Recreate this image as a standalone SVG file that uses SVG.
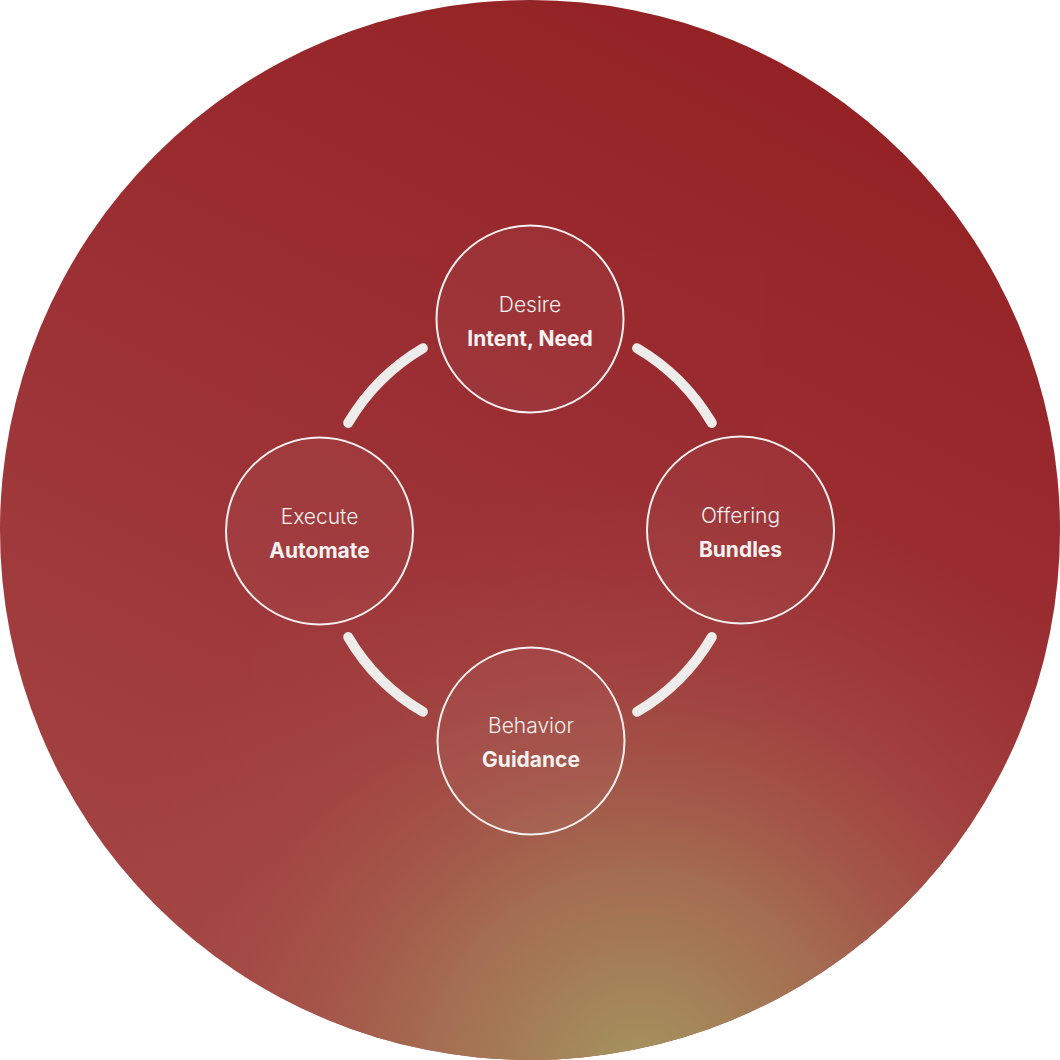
<svg xmlns="http://www.w3.org/2000/svg" width="1060" height="1060" viewBox="0 0 1060 1060">
  <defs>
    <linearGradient id="base" x1="0.75" y1="0" x2="0.25" y2="1">
      <stop offset="0" stop-color="#961619"/>
      <stop offset="0.5" stop-color="#a0282d"/>
      <stop offset="1" stop-color="#a8403e"/>
    </linearGradient>
    <radialGradient id="tan" cx="640" cy="1080" r="600" gradientUnits="userSpaceOnUse">
      <stop offset="0" stop-color="#a99a5c" stop-opacity="1"/>
      <stop offset="0.35" stop-color="#aa7450" stop-opacity="0.85"/>
      <stop offset="0.7" stop-color="#ab4e44" stop-opacity="0.4"/>
      <stop offset="1" stop-color="#a8403e" stop-opacity="0"/>
    </radialGradient>
    <filter id="noise" x="0" y="0" width="100%" height="100%">
      <feTurbulence type="fractalNoise" baseFrequency="0.9" numOctaves="2" seed="3" result="n"/>
      <feColorMatrix in="n" type="matrix" values="0 0 0 0 0.5  0 0 0 0 0.5  0 0 0 0 0.5  0 0 0 0.9 -0.3" result="g"/>
      <feComposite in="g" in2="SourceGraphic" operator="in" result="gm"/>
      <feBlend in="SourceGraphic" in2="gm" mode="normal"/>
    </filter>
    <clipPath id="disc"><circle cx="530" cy="530" r="530"/></clipPath>
  </defs>
  <style>
    .node { fill: #ffffff; fill-opacity: 0.04; stroke: #f4f0f0; stroke-width: 2; }
    .arc { fill: none; stroke: #eeeceb; stroke-width: 10; stroke-linecap: round; }
    .t1 { font-family: Inter, "Noto Sans", "Liberation Sans", sans-serif; font-size: 21px; font-weight: 300; fill: #f4f0f0; text-anchor: middle; }
    .t2 { font-family: Inter, "Noto Sans", "Liberation Sans", sans-serif; font-size: 21px; font-weight: 700; fill: #f6f2f2; text-anchor: middle; }
  </style>

  <g id="background">
    <circle cx="530" cy="530" r="530" fill="url(#base)"/>
    <circle cx="530" cy="530" r="530" fill="url(#tan)"/>
    <rect x="0" y="0" width="1060" height="1060" fill="#808080" opacity="0.1" filter="url(#noise)" clip-path="url(#disc)"/>
  </g>

  <g id="connectors">
    <path class="arc" d="M637.1,348.2 A211,211 0 0,1 711.8,422.9"/>
    <path class="arc" d="M711.8,637.1 A211,211 0 0,1 637.1,711.8"/>
    <path class="arc" d="M422.9,711.8 A211,211 0 0,1 348.2,637.1"/>
    <path class="arc" d="M348.2,422.9 A211,211 0 0,1 422.9,348.2"/>
  </g>

  <g id="node-desire">
    <circle class="node" cx="530" cy="319" r="93.5"/>
    <text class="t1" x="530" y="312">Desire</text>
    <text class="t2" x="530" y="346">Intent, Need</text>
  </g>
  <g id="node-offering">
    <circle class="node" cx="740.5" cy="530" r="93.5"/>
    <text class="t1" x="740.5" y="523">Offering</text>
    <text class="t2" x="740.5" y="557">Bundles</text>
  </g>
  <g id="node-behavior">
    <circle class="node" cx="531" cy="741" r="93.5"/>
    <text class="t1" x="531" y="733">Behavior</text>
    <text class="t2" x="531" y="767">Guidance</text>
  </g>
  <g id="node-execute">
    <circle class="node" cx="319.5" cy="531" r="93.5"/>
    <text class="t1" x="319.5" y="524">Execute</text>
    <text class="t2" x="319.5" y="558">Automate</text>
  </g>
</svg>
